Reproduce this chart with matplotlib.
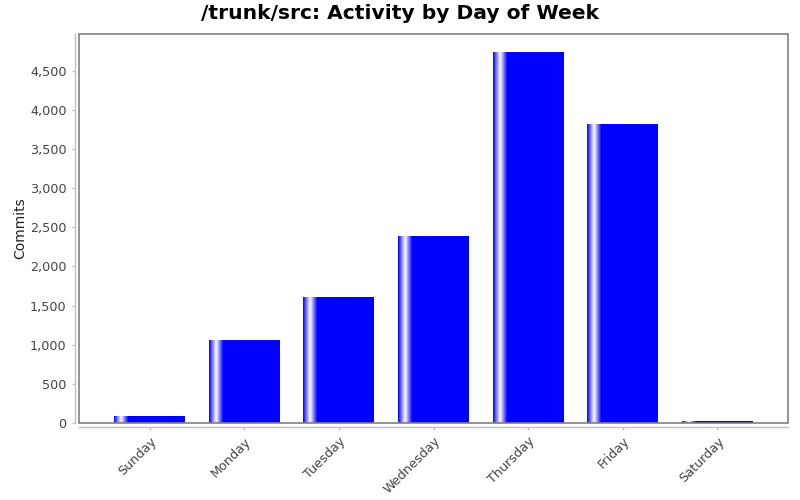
import matplotlib
matplotlib.use("Agg")
import matplotlib.pyplot as plt
import numpy as np
from matplotlib.patches import Rectangle
from matplotlib.ticker import FuncFormatter, MultipleLocator

days = ["Sunday", "Monday", "Tuesday", "Wednesday", "Thursday", "Friday", "Saturday"]
commits = [85, 1063, 1615, 2392, 4738, 3820, 30]

title = "/trunk/src: Activity by Day of Week"
ylabel = "Commits"

BLUE = np.array([0.0, 0.0, 1.0])
WHITE = np.array([1.0, 1.0, 1.0])


def gradient_strip(n=300):
    # jfreechart style: blue->white over first 10%, white->blue to 20%, then flat
    t = np.linspace(0, 1, n)
    img = np.zeros((1, n, 3))
    for i, v in enumerate(t):
        if v < 0.1:
            f = v / 0.1
        elif v < 0.2:
            f = 1 - (v - 0.1) / 0.1
        else:
            f = 0.0
        img[0, i] = BLUE + (WHITE - BLUE) * f
    return img


fig = plt.figure(figsize=(8, 5), dpi=100)
ax = fig.add_axes([79 / 800, 77 / 500, 709 / 800, 389 / 500])

x = np.arange(len(days))
bars = ax.bar(x, commits, width=0.75, color="blue", linewidth=0, zorder=2)

strip = gradient_strip()
for b in bars:
    x0, y0 = b.get_x(), b.get_y()
    w, h = b.get_width(), b.get_height()
    im = ax.imshow(strip, extent=(x0, x0 + w, y0, y0 + h), aspect="auto",
                   interpolation="bilinear", zorder=3)
    im.set_clip_path(b)

ax.set_xlim(-0.747, len(days) - 1 + 0.747)
ax.set_ylim(0, 4968)
ax.yaxis.set_major_locator(MultipleLocator(500))
ax.yaxis.set_major_formatter(FuncFormatter(lambda v, p: f"{int(v):,}"))

ax.set_xticks(x)
ax.set_xticklabels(days)

# frame around plot area
ax.add_patch(Rectangle((0, 0), 1, 1, transform=ax.transAxes, fill=False,
                       edgecolor="#808080", linewidth=1.2, zorder=5, clip_on=False))
for s in ["top", "right"]:
    ax.spines[s].set_visible(False)
for s in ["left", "bottom"]:
    ax.spines[s].set_position(("outward", 3))
    ax.spines[s].set_color("#c0c0c0")
    ax.spines[s].set_linewidth(1.0)

ax.tick_params(axis="both", colors="#c0c0c0", length=2.5, width=1.0,
               labelcolor="#444444", labelsize=9.2)
ax.tick_params(axis="x", pad=3, labelrotation=45)
for lbl in ax.get_xticklabels():
    lbl.set_ha("right")
    lbl.set_rotation_mode("anchor")

ax.set_ylabel(ylabel, fontsize=10, color="#222222")
ax.yaxis.set_label_coords(-(79 - 20) / 709, 0.5)
ax.yaxis.label.set_va("center")
fig.text(0.5, 0.973, title, ha="center", va="center", fontsize=14.6,
         fontweight="bold", color="black")

fig.savefig("out.png", dpi=100, facecolor="white")
